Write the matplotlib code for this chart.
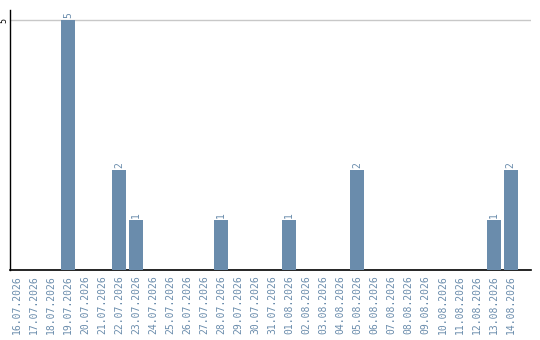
import matplotlib
matplotlib.use("Agg")
import matplotlib.pyplot as plt

dates = ["16.07.2026", "17.07.2026", "18.07.2026", "19.07.2026", "20.07.2026",
         "21.07.2026", "22.07.2026", "23.07.2026", "24.07.2026", "25.07.2026",
         "26.07.2026", "27.07.2026", "28.07.2026", "29.07.2026", "30.07.2026",
         "31.07.2026", "01.08.2026", "02.08.2026", "03.08.2026", "04.08.2026",
         "05.08.2026", "06.08.2026", "07.08.2026", "08.08.2026", "09.08.2026",
         "10.08.2026", "11.08.2026", "12.08.2026", "13.08.2026", "14.08.2026"]
counts = [0, 0, 0, 5, 0, 0, 2, 1, 0, 0, 0, 0, 1, 0, 0, 0, 1, 0, 0, 0,
          2, 0, 0, 0, 0, 0, 0, 0, 1, 2]
y_ticks = [5]

bar_color = "#6a8cac"
text_color = "#6a8cac"

fig = plt.figure(figsize=(5.4, 3.4), dpi=100)
ax = fig.add_axes([10 / 540, 70 / 340, 521 / 540, 260 / 340])

x = list(range(len(dates)))
ax.bar(x, counts, width=0.82, color=bar_color, zorder=3)
for xi, c in zip(x, counts):
    if c > 0:
        ax.text(xi, c + 0.04, str(c), rotation=90, ha="center", va="bottom",
                color=text_color, fontsize=7, family="DejaVu Sans Mono")

ax.set_xlim(-0.41, 30.2)
ax.set_ylim(0, 5.2)
ax.set_yticks(y_ticks)
ax.set_yticklabels([str(t) for t in y_ticks], rotation=90, va="center",
                   fontsize=6, family="DejaVu Sans Mono")
ax.tick_params(axis="y", length=0, pad=1.5)
ax.yaxis.grid(True, color="#c8c8c8", linewidth=1, zorder=0)

ax.set_xticks(x)
ax.set_xticklabels(dates, rotation=90, color=text_color, fontsize=7,
                   family="DejaVu Sans Mono")
ax.tick_params(axis="x", length=0, pad=4)

for s in ["top", "right"]:
    ax.spines[s].set_visible(False)
ax.spines["left"].set_linewidth(1)
ax.spines["bottom"].set_linewidth(1.2)

fig.savefig("out.png", dpi=100)
